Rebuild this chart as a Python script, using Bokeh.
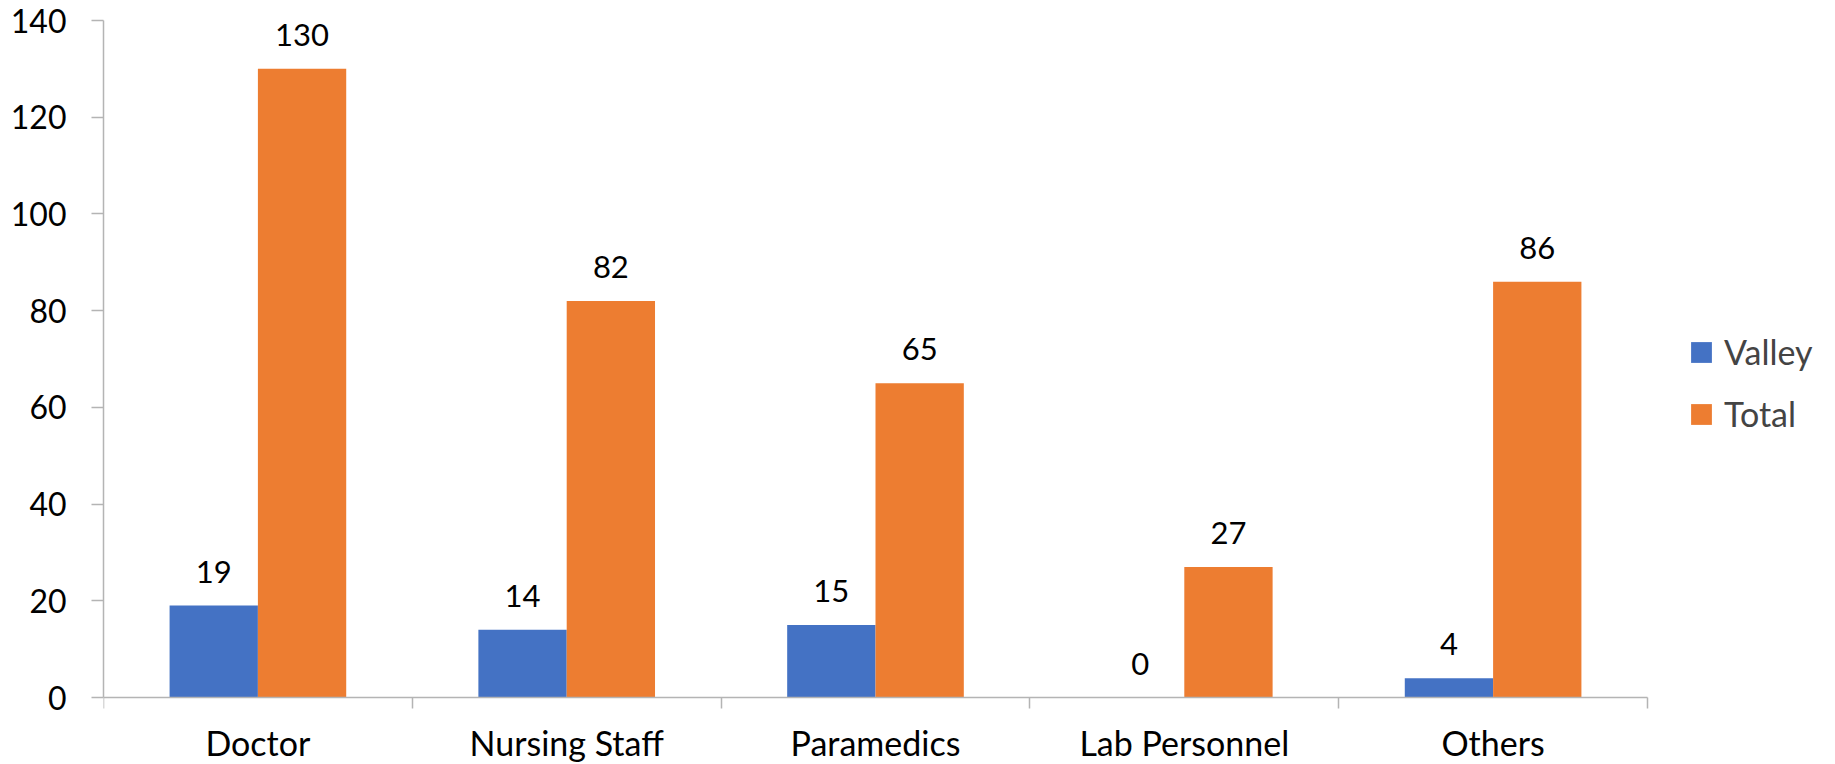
from bokeh.plotting import figure
from bokeh.models import ColumnDataSource, Range1d, FixedTicker, LabelSet, Legend, LegendItem, LinearAxis
from bokeh.transform import dodge
from bokeh.core.properties import value
from bokeh.embed import file_html
from bokeh.resources import INLINE
import numpy as np

categories = ["Doctor", "Nursing Staff", "Paramedics", "Lab Personnel", "Others"]
valley = [19, 14, 15, 0, 4]
total = [130, 82, 65, 27, 86]
y_ticks = [0, 20, 40, 60, 80, 100, 120, 140]

FONT = "Lato"
BLUE = "#4472C4"
ORANGE = "#ED7D31"
AXIS = "#B4B4B4"

W, H = 1835, 764
LEFT, TOP = 103, 20          # frame left / top (px)
X_END_PX, Y0_PX = 1647, 697  # pixel positions of last category edge and of y = 0
n = len(categories)
YMAX = y_ticks[-1]
x_end = n * (W - LEFT) / (X_END_PX - LEFT)
y_start = -YMAX * (H - Y0_PX) / (Y0_PX - TOP)

pos = np.arange(n) + 0.5
src = ColumnDataSource(dict(pos=pos, cat=categories, valley=valley, total=total,
                            vlab=[str(v) for v in valley], tlab=[str(v) for v in total]))

p = figure(width=W, height=H, output_backend="svg", toolbar_location=None,
           x_range=Range1d(0, x_end), y_range=Range1d(y_start, YMAX),
           x_axis_location=None,
           min_border_left=LEFT, min_border_right=0, min_border_top=TOP, min_border_bottom=0)

bw = 0.286
r1 = p.vbar(x=dodge("pos", -bw / 2), top="valley", width=bw, source=src, color=BLUE, line_color=None)
r2 = p.vbar(x=dodge("pos", bw / 2), top="total", width=bw, source=src, color=ORANGE, line_color=None)

for col, lab, off in (("valley", "vlab", -bw / 2), ("total", "tlab", bw / 2)):
    p.add_layout(LabelSet(x=dodge("pos", off), y=col, text=lab, source=src,
                          text_align="center", text_baseline="alphabetic", y_offset=23,
                          text_font=value(FONT), text_font_size="31px", text_color="#000000"))

p.grid.visible = False
p.outline_line_color = None

xa = LinearAxis(fixed_location=0, bounds=(0, n))
xa.ticker = FixedTicker(ticks=list(pos), minor_ticks=list(range(n + 1)))
xa.major_label_overrides = {float(v): c for v, c in zip(pos, categories)}
xa.major_tick_out = 0
xa.major_tick_in = 0
xa.minor_tick_out = 11
xa.minor_tick_in = 0
xa.minor_tick_line_color = AXIS
xa.axis_line_color = AXIS
xa.axis_line_width = 1.5
xa.minor_tick_line_width = 1.5
xa.major_label_standoff = 13
xa.major_label_text_font = FONT
xa.major_label_text_font_size = "34px"
xa.major_label_text_color = "#000000"
p.add_layout(xa, "below")

ya = p.yaxis[0]
ya.bounds = (0, YMAX)
ya.ticker = FixedTicker(ticks=y_ticks, minor_ticks=[])
ya.major_tick_out = 12
ya.major_tick_in = 0
ya.major_tick_line_color = AXIS
ya.axis_line_color = AXIS
ya.axis_line_width = 1.5
ya.major_tick_line_width = 1.5
ya.major_label_standoff = 25
ya.major_label_text_font = FONT
ya.major_label_text_font_size = "32px"
ya.major_label_text_color = "#000000"

legend = Legend(items=[LegendItem(label="Valley", renderers=[r1]),
                       LegendItem(label="Total", renderers=[r2])],
                location=(1585, 330), padding=0, margin=0, spacing=21,
                glyph_width=26, glyph_height=26, label_standoff=10,
                label_text_font=FONT, label_text_font_size="34px",
                border_line_color=None, background_fill_alpha=0)
p.add_layout(legend, "center")

open("out.html", "w").write(file_html(p, INLINE))
